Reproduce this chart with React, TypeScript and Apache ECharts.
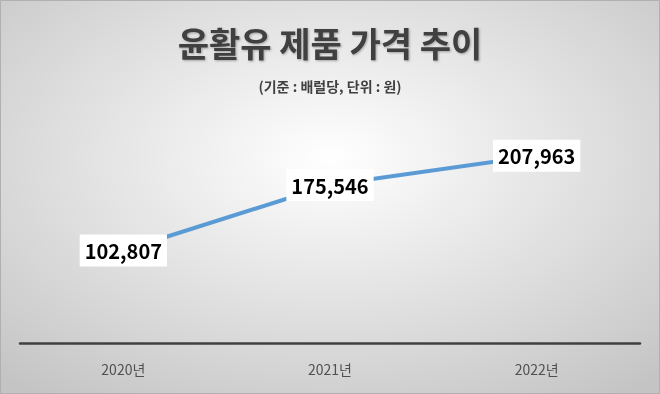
import React, { useEffect, useRef } from "react";
import * as echarts from "echarts";

const categories = ["2020년", "2021년", "2022년"];
const prices = [102807, 175546, 207963];
const titleText = "윤활유 제품 가격 추이";
const subtitleText = "(기준 : 배럴당, 단위 : 원)";

export default function App() {
  const ref = useRef<HTMLDivElement>(null);
  useEffect(() => {
    if (!ref.current) return;
    const chart = echarts.init(ref.current, null, { renderer: "svg" });
    const font = "'Noto Sans CJK KR', 'Noto Sans', sans-serif";
    chart.setOption({
      animation: false,
      backgroundColor: new echarts.graphic.RadialGradient(0.5, 0.4, 0.75, [
        { offset: 0, color: "#ffffff" },
        { offset: 1, color: "#c4c4c4" },
      ]),
      title: [
        {
          text: titleText,
          left: "center",
          top: 20,
          textStyle: {
            fontFamily: font,
            fontSize: 34,
            fontWeight: "bold",
            color: "#404040",
            textShadowColor: "rgba(0,0,0,0.3)",
            textShadowBlur: 2,
            textShadowOffsetX: 1,
            textShadowOffsetY: 1,
          },
        },
        {
          text: subtitleText,
          left: "center",
          top: 74,
          textStyle: {
            fontFamily: font,
            fontSize: 14,
            fontWeight: "bold",
            color: "#404040",
          },
        },
      ],
      grid: { left: 20, right: 20, top: 118, bottom: 51, containLabel: false },
      xAxis: {
        type: "category",
        data: categories,
        boundaryGap: true,
        axisLine: { show: true, lineStyle: { color: "#404040", width: 2.5 } },
        axisTick: { show: false },
        axisLabel: {
          margin: 19,
          fontFamily: font,
          fontSize: 14,
          color: "#505050",
        },
      },
      yAxis: {
        type: "value",
        min: 0,
        max: 250000,
        interval: 50000,
        show: false,
        splitLine: { show: false },
      },
      series: [
        {
          type: "line",
          data: prices,
          symbol: "circle",
          symbolSize: 1,
          showSymbol: true,
          lineStyle: { color: "#5b9bd5", width: 4 },
          itemStyle: { color: "#5b9bd5" },
          label: {
            show: true,
            position: "inside",
            formatter: (p: any) => Number(p.value).toLocaleString("en-US"),
            fontFamily: font,
            fontSize: 20,
            fontWeight: "bold",
            color: "#000000",
            backgroundColor: "#ffffff",
            padding: [7, 5, 5, 5],
          },
        },
      ],
      graphic: [
        {
          type: "rect",
          shape: { x: 0.5, y: 0.5, width: 659, height: 393 },
          style: { fill: "none", stroke: "#b0b0b0", lineWidth: 1 },
          silent: true,
        },
      ],
    });
    return () => chart.dispose();
  }, []);
  return (
    <div
      ref={ref}
      style={{ position: "fixed", left: 0, top: 0, width: 660, height: 394 }}
    />
  );
}
